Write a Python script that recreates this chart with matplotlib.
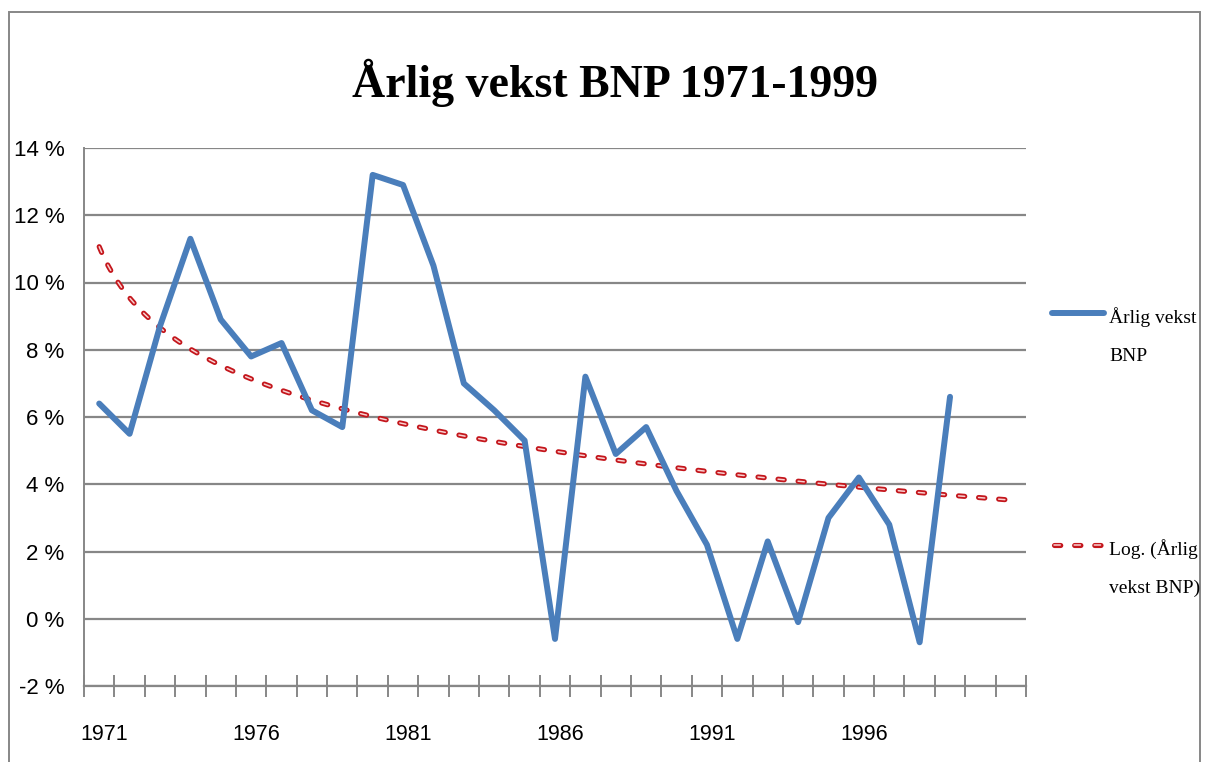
import numpy as np
import matplotlib
matplotlib.use("Agg")
import matplotlib.pyplot as plt
import matplotlib.transforms as mtransforms
from matplotlib.lines import Line2D
from matplotlib.patches import Rectangle
from matplotlib.ticker import FuncFormatter

# annual GDP growth, percent
years = list(range(1971, 2000))
growth = [6.4, 5.5, 8.7, 11.3, 8.9, 7.8, 8.2, 6.2, 5.7, 13.2,
          12.9, 10.5, 7.0, 6.2, 5.3, -0.6, 7.2, 4.9, 5.7, 3.8,
          2.2, -0.6, 2.3, -0.1, 3.0, 4.2, 2.8, -0.7, 6.6]
n_categories = 31          # axis runs two periods past 1999 (trend forecast)
label_step = 5

title = "Årlig vekst BNP 1971-1999"
series_label = "Årlig vekst\nBNP"
trend_label = "Log. (Årlig\nvekst BNP)"

blue = "#4A7EBB"
red = "#C4161C"
pink = "#F8D0D0"
grey = "#878787"

plt.rcParams["lines.scale_dashes"] = False
sans = ["Liberation Sans Narrow", "Liberation Sans", "DejaVu Sans"]
serif = ["Liberation Serif", "DejaVu Serif"]

W, H = 1210, 762
fig = plt.figure(figsize=(W / 100, H / 100), dpi=100)
ax = fig.add_axes([84 / W, 1 - 686 / H, (1026 - 84) / W, (686 - 148) / H])

# data, categories are 1..29
x = np.arange(1, len(years) + 1)
y = np.array(growth) / 100
ax.plot(x, y, color=blue, lw=4.3, solid_joinstyle="round", solid_capstyle="round", zorder=4)

# logarithmic trend line (same fit Excel does), forecast to the end of axis
a, b = np.polyfit(np.log(x), y, 1)
xt = np.linspace(1, n_categories, 400)
yt = a * np.log(xt) + b
dash = (0, (4.5, 10))
ax.plot(xt, yt, color=red, lw=3.7, ls=dash, dash_capstyle="round", zorder=3)
ax.plot(xt, yt, color=pink, lw=1.1, ls=dash, dash_capstyle="round", zorder=3)

ax.set_xlim(0.5, n_categories + 0.5)
ax.set_ylim(-0.02, 0.14)
ax.set_yticks(np.arange(-0.02, 0.141, 0.02))
ax.yaxis.set_major_formatter(FuncFormatter(lambda v, p: f"{v * 100:.0f} %"))
ax.grid(axis="y", color=grey, lw=1.6)
ax.set_axisbelow(True)

major = list(range(1, len(years) + 1, label_step))
ax.set_xticks(major)
ax.set_xticklabels([str(years[i - 1]) for i in major])
ax.set_xticks(np.arange(0.5, n_categories + 1), minor=True)
ax.tick_params(axis="x", which="major", length=0, pad=27, labelsize=15.5)
ax.tick_params(axis="x", which="minor", direction="inout", length=16, width=1.4, color=grey)
ax.tick_params(axis="y", length=0, pad=14, labelsize=16)
for lab in ax.get_xticklabels() + ax.get_yticklabels():
    lab.set_fontfamily(sans)
shift = mtransforms.ScaledTranslation(0.05, 0, fig.dpi_scale_trans)
for lab in ax.get_xticklabels():
    lab.set_transform(lab.get_transform() + shift)

for s in ["top", "right"]:
    ax.spines[s].set_visible(False)
ax.spines["left"].set_color(grey)
ax.spines["left"].set_linewidth(1.4)
ax.spines["bottom"].set_color(grey)
ax.spines["bottom"].set_linewidth(1.6)

fig.text(615 / W, 1 - 97 / H, title, ha="center", va="baseline",
         fontsize=33, fontweight="bold", family=serif)

# legend, drawn by hand so the key sits on the first text line
fig.add_artist(Line2D([1052 / W, 1104 / W], [1 - 313 / H] * 2, transform=fig.transFigure,
                      color=blue, lw=4.3, solid_capstyle="round"))
fig.add_artist(Line2D([1054 / W, 1102 / W], [1 - 545 / H] * 2, transform=fig.transFigure,
                      color=red, lw=3.7, ls=dash, dash_capstyle="round"))
fig.add_artist(Line2D([1054 / W, 1102 / W], [1 - 545 / H] * 2, transform=fig.transFigure,
                      color=pink, lw=1.1, ls=dash, dash_capstyle="round"))
fig.text(1109 / W, 1 - 307 / H, series_label, ha="left", va="top",
         fontsize=14, family=serif, linespacing=2.6)
fig.text(1109 / W, 1 - 539 / H, trend_label, ha="left", va="top",
         fontsize=14, family=serif, linespacing=2.6)

# chart area border
fig.add_artist(Rectangle((9 / W, -0.05), (1200 - 9) / W, 1.05 - 12 / H,
                         transform=fig.transFigure, fill=False, ec=grey, lw=1.4))

fig.savefig("out.png", dpi=100)
